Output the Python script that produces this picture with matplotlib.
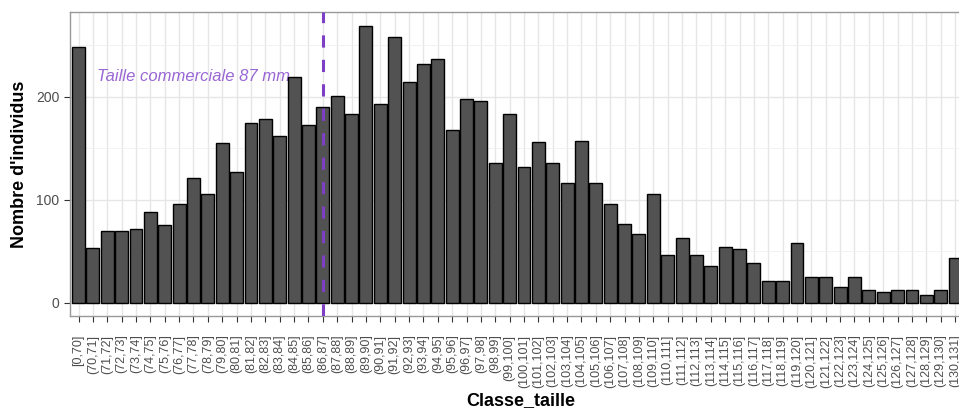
import matplotlib
matplotlib.use("Agg")
import matplotlib.pyplot as plt

# size classes (mm) and number of individuals
bornes = list(range(70, 132))
classes = ["[0,70]"] + [f"({b - 1},{b}]" for b in bornes[1:]]
effectifs = [248, 53, 70, 70, 72, 88, 75, 96, 121, 106,
             155, 127, 175, 178, 162, 219, 173, 190, 201, 183,
             269, 193, 258, 214, 232, 237, 168, 198, 196, 136,
             183, 132, 156, 136, 116, 157, 116, 96, 76, 67,
             106, 46, 63, 46, 36, 54, 52, 39, 21, 21,
             58, 25, 25, 15, 25, 12, 10, 12, 12, 7,
             12, 43]
taille_commerciale = "(86,87]"
annotation = "Taille commerciale 87 mm"

plt.rcParams["font.family"] = ["Liberation Sans", "DejaVu Sans"]

fig = plt.figure(figsize=(9.59, 4.09), dpi=100)
ax = fig.add_axes([0.0729, 0.2262, 0.941, 0.7445])

x = list(range(len(classes)))
ax.bar(x, effectifs, width=0.9, color="#525252", edgecolor="black",
       linewidth=1.0, zorder=3)

xv = classes.index(taille_commerciale)
ax.axvline(xv, color="#7d3fc4", linewidth=2.2, dashes=(4, 4), zorder=4)
ax.text(8, 220, annotation, color="#9a66d4", fontsize=12, style="italic",
        ha="center", va="center", zorder=2)

ax.set_xlim(-0.6, 62.2)
ax.set_ylim(-13.45, 282.4)
ax.set_xticks(x)
ax.set_xticklabels(classes, rotation=90, fontsize=9, color="#4d4d4d")
ax.set_yticks([0, 100, 200])
ax.set_yticks([50, 150, 250], minor=True)
ax.tick_params(axis="y", which="minor", length=0)
ax.tick_params(axis="both", which="major", length=4, color="#333333",
               labelsize=10, labelcolor="#4d4d4d")
ax.tick_params(axis="x", labelsize=9, pad=9)

ax.grid(True, which="major", color="#e6e6e6", linewidth=1.0, zorder=0)
ax.grid(True, which="minor", axis="y", color="#f0f0f0", linewidth=0.6, zorder=0)
ax.set_axisbelow(True)
for s in ax.spines.values():
    s.set_color("#999999")
    s.set_linewidth(1.0)

ax.set_xlabel("Classe_taille", fontsize=13, fontweight="bold", labelpad=3)
ax.set_ylabel("Nombre d'individus", fontsize=13, fontweight="bold", labelpad=6)

fig.savefig("out.png", dpi=100)
